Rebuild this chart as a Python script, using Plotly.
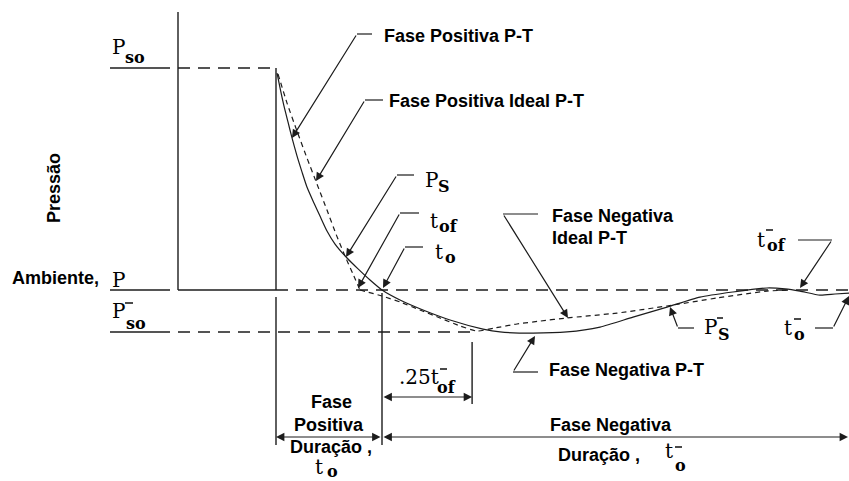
import plotly.graph_objects as go

# Normalised blast-wave pressure-time history.
# Time is in units of the positive-phase duration t_o (shock arrival at t = 0),
# pressure is in units of the peak side-on overpressure P_so (ambient = 0).

# Measured ("real") P-T curve, positive and negative phase
t_real = [0.010, 0.038, 0.075, 0.113, 0.151, 0.198, 0.245, 0.292, 0.358, 0.415,
          0.481, 0.557, 0.670, 0.774, 0.887, 1.000, 1.170, 1.387, 1.642, 1.953,
          2.113, 2.425, 2.745, 3.057, 3.368, 3.689, 4.000, 4.311, 4.632, 4.802,
          4.943, 5.132, 5.274, 5.406]
p_real = [0.977, 0.910, 0.829, 0.757, 0.685, 0.604, 0.532, 0.464, 0.392, 0.333,
          0.266, 0.207, 0.144, 0.095, 0.045, 0.000, -0.045, -0.090, -0.135, -0.176,
          -0.189, -0.194, -0.189, -0.167, -0.122, -0.077, -0.032, -0.009, 0.009, 0.005,
          -0.005, -0.023, -0.018, -0.014]

# Idealised (equivalent triangular) positive phase
t_ideal_pos = [0.019, 0.104, 0.198, 0.292, 0.387, 0.481, 0.566, 0.651, 0.726, 0.792]
p_ideal_pos = [0.973, 0.842, 0.716, 0.595, 0.477, 0.360, 0.252, 0.153, 0.072, 0.000]

# Idealised negative phase
t_ideal_neg = [0.792, 1.000, 1.170, 1.358, 1.547, 1.736, 1.896, 2.066, 2.274, 2.491,
               2.745, 3.217, 3.689, 4.160, 4.632, 4.849]
p_ideal_neg = [0.000, -0.027, -0.054, -0.090, -0.126, -0.162, -0.185, -0.171, -0.153, -0.140,
               -0.126, -0.104, -0.072, -0.036, -0.005, 0.000]

# Characteristic levels and instants
P_SO = 1.0          # peak positive overpressure
P_AMB = 0.0         # ambient pressure
P_SO_NEG = -0.189   # peak negative pressure
T_ARR = 0.0         # arrival time
T_O = 1.0           # positive-phase duration
T_QTR = 1.85        # t_o + .25 t_of-

INK = "#1c1c1c"
TXT = "#000000"
SANS = "Liberation Sans"
SERIF = "DejaVu Serif"

W, H = 849, 481
# canvas placement of the normalised axes
X0, KX = 276.0, 106.0
Y0, KY = 290.0, 222.0


def X(px):
    return (px - X0) / KX


def Y(py):
    return (Y0 - py) / KY


fig = go.Figure()


def seg(xs, ys, dash=None, width=1.4):
    fig.add_trace(go.Scatter(x=xs, y=ys, mode="lines", hoverinfo="skip",
                             line=dict(color=INK, width=width, dash=dash)))


LONG_DASH = "12px,8px"

# pressure axis and reference levels
seg([X(178), X(178)], [Y(12), P_AMB])
seg([X(178), T_ARR], [P_AMB, P_AMB])
seg([X(110), X(170)], [P_AMB, P_AMB])
seg([T_ARR, X(W)], [P_AMB, P_AMB], dash=LONG_DASH)
seg([X(110), X(170)], [P_SO, P_SO])
seg([X(178), T_ARR], [P_SO, P_SO], dash=LONG_DASH)
seg([X(110), X(170)], [P_SO_NEG, P_SO_NEG])
seg([X(178), T_QTR], [P_SO_NEG, P_SO_NEG], dash=LONG_DASH)

# shock front and extension lines of the duration dimensions
seg([T_ARR, T_ARR], [P_AMB, P_SO])
seg([T_ARR, T_ARR], [Y(297), Y(445)])
seg([T_O, T_O], [Y(293), Y(445)])
seg([T_QTR, T_QTR], [Y(342), Y(404)])

# pressure-time curves
fig.add_trace(go.Scatter(x=t_real, y=p_real, mode="lines", hoverinfo="skip",
                         line=dict(color=INK, width=1.2, shape="spline", smoothing=0.6)))
fig.add_trace(go.Scatter(x=t_ideal_pos, y=p_ideal_pos, mode="lines", hoverinfo="skip",
                         line=dict(color=INK, width=1.2, dash="5px,4px",
                                   shape="spline", smoothing=0.5)))
fig.add_trace(go.Scatter(x=t_ideal_neg, y=p_ideal_neg, mode="lines", hoverinfo="skip",
                         line=dict(color=INK, width=1.2, dash="5px,4px",
                                   shape="spline", smoothing=0.5)))


def arrow(tip, tail, both=False, size=1.4):
    fig.add_annotation(x=X(tip[0]), y=Y(tip[1]), ax=X(tail[0]), ay=Y(tail[1]),
                       xref="x", yref="y", axref="x", ayref="y", text="",
                       showarrow=True, arrowhead=2, arrowsize=size, arrowwidth=1.2,
                       arrowcolor=INK, standoff=0, startstandoff=0,
                       startarrowhead=2, startarrowsize=size,
                       arrowside="end+start" if both else "end")


def leader(h0, h1, tip):
    # short horizontal tick next to the label, then a slanted arrow to the curve
    seg([X(h0[0]), X(h1[0])], [Y(h0[1]), Y(h1[1])], width=1.2)
    arrow(tip, h0)


def text(px, py, s, size=18, family=SANS, bold=True, anchor="left", angle=0):
    fig.add_annotation(x=X(px), y=Y(py), xref="x", yref="y",
                       text=f"<b>{s}</b>" if bold else s, showarrow=False,
                       xanchor=anchor, yanchor="middle", textangle=angle,
                       font=dict(family=family, size=size, color=TXT))


def symbol(main, mpos, sub=None, spos=None, bar=None):
    text(mpos[0], mpos[1], main, size=20, family=SERIF, bold=False)
    if sub:
        text(spos[0], spos[1], sub, size=16, family=SERIF, bold=True)
    if bar:
        seg([X(bar[0]), X(bar[1])], [Y(bar[2]), Y(bar[2])], width=1.6)


# leaders pointing at the curves
leader((357, 34), (372, 34), (292, 138))
leader((365, 100), (383, 100), (316, 181))
leader((397, 175), (414, 175), (346, 257))
leader((400, 213), (419, 213), (358, 288))
leader((405, 247), (423, 247), (383, 288))
leader((503, 214), (538, 214), (568, 318))
leader((832, 240), (798, 240), (800, 288))
leader((678, 328), (694, 328), (670, 307))
leader((833, 328), (815, 328), (849, 296))
leader((513, 372), (538, 372), (535, 336))

# duration dimensions
arrow((T_ARR * KX + X0, 437), (T_O * KX + X0, 437), both=True)
arrow((W - 1, 437), (T_O * KX + X0, 437), both=True)
arrow((T_QTR * KX + X0, 397), (T_O * KX + X0, 397), both=True)

# bold captions
text(382, 36, "Fase Positiva P-T")
text(387, 101, "Fase Positiva Ideal P-T")
text(550, 216, "Fase Negativa")
text(550, 238, "Ideal P-T")
text(547, 370, "Fase Negativa P-T")
text(331, 402, "Fase", anchor="center")
text(329, 425, "Positiva", anchor="center")
text(331, 447, "Duração ,", anchor="center")
text(548, 425, "Fase Negativa")
text(556, 455, "Duração ,")
text(10, 278, "Ambiente,")
text(54, 188, "Pressão", anchor="center", angle=-90)

# symbols
symbol("P", (110, 47), "so", (123, 57))
symbol("P", (110, 280))
symbol("P", (110, 311), "so", (124, 323), bar=(125, 133, 303))
symbol("P", (423, 180), "S", (436, 186))
symbol("t", (428, 221), "of", (437, 226))
symbol("t", (433, 252), "o", (443, 257))
symbol(".25t", (397, 377), "of", (435, 387), bar=(440, 447, 369))
symbol("t", (313, 467), "o", (325, 471))
symbol("t", (663, 451), "o", (673, 465), bar=(675, 682, 447))
symbol("t", (755, 240), "of", (765, 245), bar=(766, 773, 230))
symbol("P", (702, 327), "S", (716, 334), bar=(717, 723, 318))
symbol("t", (782, 328), "o", (792, 334), bar=(794, 801, 319))

fig.update_xaxes(range=[X(0), X(W)], visible=False, showgrid=False, zeroline=False)
fig.update_yaxes(range=[Y(H), Y(0)], visible=False, showgrid=False, zeroline=False)
fig.update_layout(width=W, height=H, margin=dict(l=0, r=0, t=0, b=0),
                  paper_bgcolor="white", plot_bgcolor="white", showlegend=False)

fig.write_html("out.html")
